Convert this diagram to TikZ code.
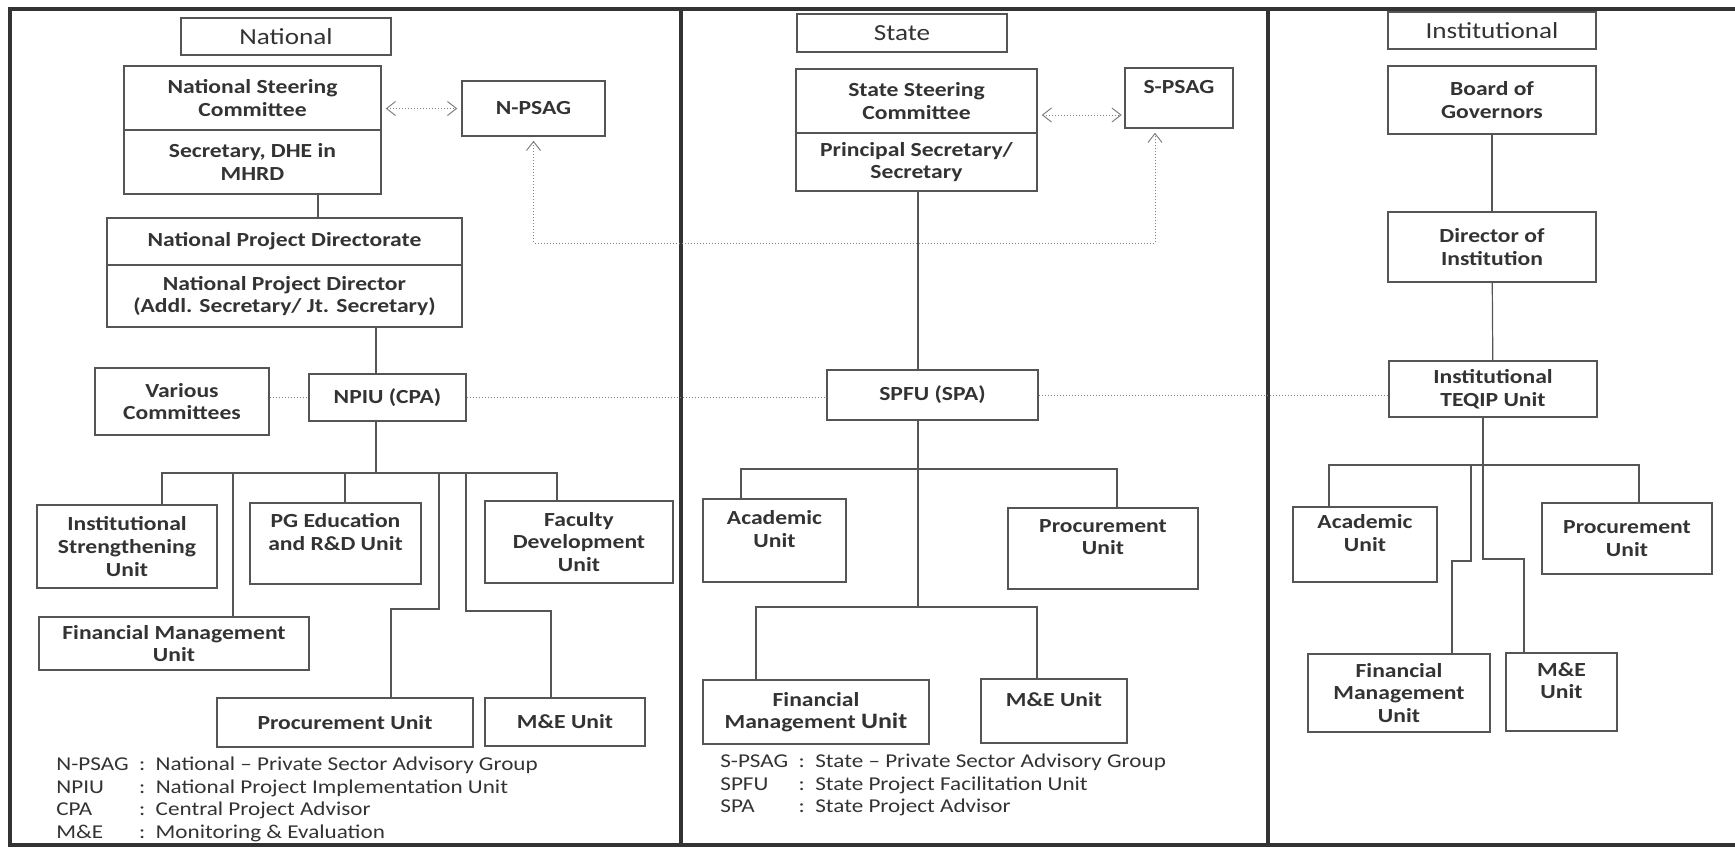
\documentclass[tikz,border=0pt]{standalone}
\usepackage{fontspec}
\setmainfont{Carlito}[FakeStretch=1.18]
\usetikzlibrary{arrows.meta,calc}
\definecolor{framegray}{HTML}{333333}
\definecolor{boxgray}{HTML}{555555}
\definecolor{textgray}{HTML}{333333}
\definecolor{dotgray}{HTML}{808080}

\begin{document}
\begin{tikzpicture}[x=0.5pt,y=-0.5pt,
  unitbox/.style={draw=boxgray, line width=0.7pt, align=center, inner sep=1pt, text=textgray, font=\fontsize{10}{11.3}\selectfont\bfseries},
  headbox/.style={draw=boxgray, line width=0.9pt, inner sep=0pt, text=textgray, font=\fontsize{11.5}{12}\selectfont},
  boxsize/.style 2 args={minimum width=#1*0.5pt, minimum height=#2*0.5pt},
  link/.style={draw=boxgray, line width=0.6pt},
  dotlink/.style={draw=dotgray, line width=0.5pt, densely dotted},
  both/.style={{Straight Barb[length=4.5pt,width=7pt]}-{Straight Barb[length=4.5pt,width=7pt]}, shorten <=2pt, shorten >=2pt},
  legend/.style={inner sep=0pt, anchor=north west, text=textgray, font=\fontsize{9.8}{11.4}\selectfont},
  frame/.style={draw=framegray, line width=1.7pt}
]
\useasboundingbox (0,0) rectangle (1735,848);

% panels
\draw[frame] (1735,9) -- (10,9) -- (10,845) -- (1735,845);
\draw[frame] (681,9) -- (681,845);
\draw[frame] (1268,9) -- (1268,845);

% National
\node[headbox, boxsize={210}{37}] (natH) at (286,36.5) {National};
\node[unitbox, boxsize={257}{64}] (nsc) at (252.5,98) {National Steering\\Committee};
\node[unitbox, boxsize={257}{64}] (nscSec) at (252.5,162) {Secretary, DHE in\\MHRD};
\node[unitbox, boxsize={143}{55}] (npsag) at (533.5,108.5) {N-PSAG};
\node[unitbox, boxsize={355}{47}] (npd) at (284.5,241.5) {National Project Directorate};
\node[unitbox, boxsize={355}{62}] (npdDir) at (284.5,296) {National Project Director\\(Addl. Secretary/ Jt. Secretary)};
\node[unitbox, boxsize={174}{67}] (vc) at (182,401.5) {Various\\Committees};
\node[unitbox, boxsize={157}{47}] (npiu) at (387.5,397.5) {NPIU (CPA)};
\node[unitbox, boxsize={180}{83}] (isu) at (127,546.5) {Institutional\\Strengthening\\Unit};
\node[unitbox, boxsize={171}{81}] (pgu) at (335.5,543.5) {PG Education\\and R\&D Unit\\\mbox{}};
\node[unitbox, boxsize={188}{82}] (fdu) at (579,542) {Faculty\\Development\\Unit};
\node[unitbox, boxsize={270}{53}] (fmu) at (174,643.5) {Financial Management\\Unit};
\node[unitbox, boxsize={256}{49}] (pru) at (345,722.5) {Procurement Unit};
\node[unitbox, boxsize={160}{48}] (meu) at (565,722) {M\&E Unit};

\coordinate (ntop) at (318,0);
\coordinate (nbus) at (376,473);
\draw[link] (nscSec.south -| ntop) -- (npd.north -| ntop);
\draw[link] (npdDir.south -| nbus) -- (npiu.north -| nbus);
\draw[link] (npiu.south -| nbus) -- (nbus);
\draw[link] (nbus) -| ($(isu.north)+(35,0)$);
\draw[link] (nbus) -| ($(fmu.north)+(59,0)$);
\draw[link] (nbus) -| ($(pgu.north)+(9.5,0)$);
\draw[link] (nbus) -| (439,609) -| ($(pru.north)+(46,0)$);
\draw[link] (nbus) -| (466,611) -| ($(meu.north)+(-14,0)$);
\draw[link] (nbus) -| ($(fdu.north)+(-22,0)$);

\draw[dotlink, both] (npsag.west -| nsc.east) -- (npsag.west);

\node[legend] (nleg) at (56,754) {%
  \begin{tabular}{@{}l@{\ \ :\ \ }l@{}}
  N-PSAG & National -- Private Sector Advisory Group\\
  NPIU & National Project Implementation Unit\\
  CPA & Central Project Advisor\\
  M\&E & Monitoring \& Evaluation
  \end{tabular}};

% State
\node[headbox, boxsize={210}{38}] (stH) at (902,33) {State};
\node[unitbox, boxsize={241}{64}] (ssc) at (916.5,101) {State Steering\\Committee};
\node[unitbox, boxsize={241}{58}] (sscSec) at (916.5,162) {Principal Secretary/\\Secretary};
\node[unitbox, boxsize={108}{60}] (spsag) at (1179,98) {S-PSAG\\\mbox{}};
\node[unitbox, boxsize={211}{50}] (spfu) at (932.5,395) {SPFU (SPA)};
\node[unitbox, boxsize={143}{83}] (acu) at (774.5,540.5) {Academic\\Unit\\\mbox{}};
\node[unitbox, boxsize={190}{81}] (pcu) at (1103,548.5) {Procurement\\Unit\\\mbox{}};
\node[unitbox, boxsize={226}{64}] (fms) at (816,712) {Financial\\Management {\fontsize{11}{11.3}\selectfont Unit}};
\node[unitbox, boxsize={146}{64}] (mes) at (1054,711) {M\&E Unit\\\mbox{}};

\coordinate (sbus) at (918,469);
\coordinate (sbus2) at (918,607);
\draw[link] (sscSec.south -| sbus) -- (spfu.north -| sbus);
\draw[link] (spfu.south -| sbus) -- (sbus2);
\draw[link] (sbus) -| ($(acu.north)+(-33.5,0)$);
\draw[link] (sbus) -| ($(pcu.north)+(14,0)$);
\draw[link] (sbus2) -| ($(fms.north)+(-60,0)$);
\draw[link] (sbus2) -| ($(mes.north)+(-17,0)$);

\draw[dotlink, both] ($(ssc.east)+(0,14)$) -- ($(ssc.east)+(88,14)$);
\coordinate (psagbend) at (1155,243);
\draw[dotlink, both] (npsag.south) |- (psagbend) -- (psagbend |- spsag.south);

\node[legend] (sleg) at (720,751) {%
  \begin{tabular}{@{}l@{\ \ :\ \ }l@{}}
  S-PSAG & State -- Private Sector Advisory Group\\
  SPFU & State Project Facilitation Unit\\
  SPA & State Project Advisor
  \end{tabular}};

% Institutional
\node[headbox, boxsize={208}{37}] (inH) at (1492,30.5) {Institutional};
\node[unitbox, boxsize={208}{68}] (bog) at (1492,100) {Board of\\Governors};
\node[unitbox, boxsize={208}{70}] (doi) at (1492,247) {Director of\\Institution};
\node[unitbox, boxsize={208}{56}] (teq) at (1493,389) {Institutional\\TEQIP Unit};
\node[unitbox, boxsize={144}{75}] (aci) at (1365,544.5) {Academic\\Unit\\\mbox{}};
\node[unitbox, boxsize={170}{71}] (pri) at (1627,538.5) {Procurement\\Unit};
\node[unitbox, boxsize={182}{78}] (fmi) at (1399,693) {Financial\\Management\\Unit};
\node[unitbox, boxsize={111}{78}] (mei) at (1561.5,692) {M\&E\\Unit\\\mbox{}};

\coordinate (ibus) at (1483,465);
\draw[link] (bog) -- (doi);
\draw[link] (doi) -- (teq);
\draw[link] (teq.south -| ibus) -- (ibus);
\draw[link] (ibus) -| ($(aci.north)+(-36,0)$);
\draw[link] (ibus) -| ($(pri.north)+(12,0)$);
\draw[link] (ibus) -| (1471,561) -| ($(fmi.north)+(53,0)$);
\draw[link] (ibus) |- (1524,559) -- ($(mei.north)+(-37.5,0)$);

% dotted link across levels
\draw[dotlink] (vc.east |- npiu.west) -- (npiu.west);
\draw[dotlink] (npiu.east) -- (spfu.west |- npiu.east);
\draw[dotlink] (spfu.east) -- (teq.west |- spfu.east);
\end{tikzpicture}
\end{document}
